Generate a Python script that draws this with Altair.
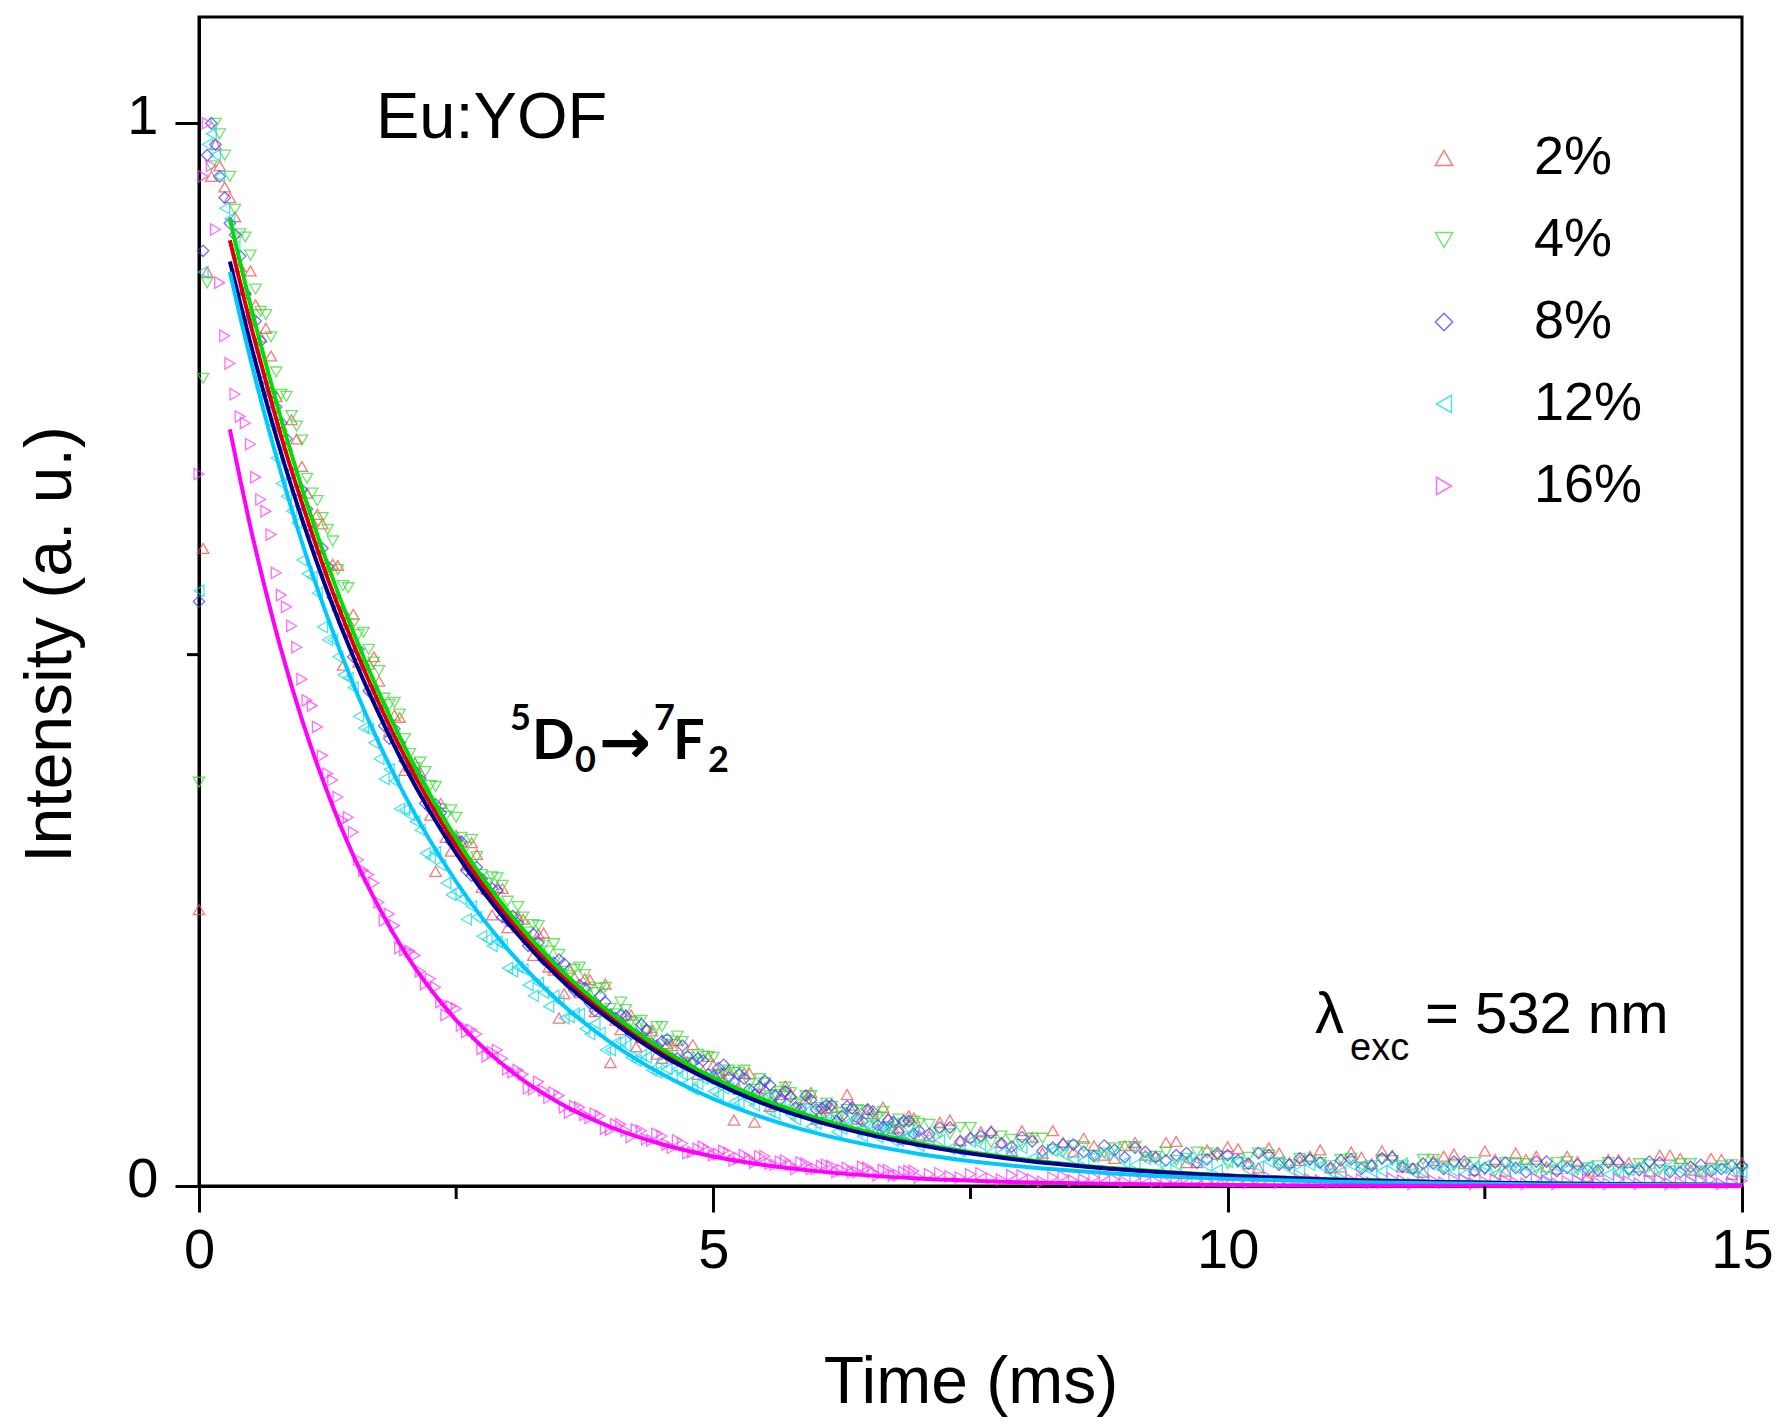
import altair as alt
import pandas as pd

# ---------------- data ----------------
SERIES = ["2%", "4%", "8%", "12%", "16%"]

TIME_MS = [
    0.0, 0.04, 0.08, 0.12, 0.16, 0.2, 0.25,
    0.30, 0.35, 0.40, 0.45, 0.50, 0.55, 0.60, 0.65, 0.70, 0.75, 0.80, 0.85, 0.90, 0.95, 1.00, 1.05, 1.10, 1.15, 1.20, 1.25,
    1.30, 1.35, 1.40, 1.45, 1.50, 1.55, 1.60, 1.65, 1.70, 1.75, 1.80, 1.85, 1.90, 1.95, 2.00, 2.05, 2.10, 2.15, 2.20, 2.25,
    2.30, 2.35, 2.40, 2.45, 2.50, 2.55, 2.60, 2.65, 2.70, 2.75, 2.80, 2.85, 2.90, 2.95, 3.00, 3.05, 3.10, 3.15, 3.20, 3.25,
    3.30, 3.35, 3.40, 3.45, 3.50, 3.55, 3.60, 3.65, 3.70, 3.75, 3.80, 3.85, 3.90, 3.95, 4.00, 4.05, 4.10, 4.15, 4.20, 4.25,
    4.30, 4.35, 4.40, 4.45, 4.50, 4.55, 4.60, 4.65, 4.70, 4.75, 4.80, 4.85, 4.90, 4.95, 5.00, 5.05, 5.10, 5.15, 5.20, 5.25,
    5.30, 5.35, 5.40, 5.45, 5.50, 5.55, 5.60, 5.65, 5.70, 5.75, 5.80, 5.85, 5.90, 5.95, 6.00, 6.05, 6.10, 6.15, 6.20, 6.25,
    6.30, 6.35, 6.40, 6.45, 6.50, 6.55, 6.60, 6.65, 6.70, 6.75, 6.80, 6.85, 6.90, 6.95, 7.00,
    7.1, 7.2, 7.3, 7.4, 7.5, 7.6, 7.7, 7.8, 7.9, 8.0, 8.1, 8.2, 8.3, 8.4, 8.5, 8.6, 8.7, 8.8, 8.9, 9.0,
    9.1, 9.2, 9.3, 9.4, 9.5, 9.6, 9.7, 9.8, 9.9, 10.0, 10.1, 10.2, 10.3, 10.4, 10.5, 10.6, 10.7, 10.8, 10.9, 11.0,
    11.1, 11.2, 11.3, 11.4, 11.5, 11.6, 11.7, 11.8, 11.9, 12.0, 12.1, 12.2, 12.3, 12.4, 12.5, 12.6, 12.7, 12.8, 12.9, 13.0,
    13.1, 13.2, 13.3, 13.4, 13.5, 13.6, 13.7, 13.8, 13.9, 14.0, 14.1, 14.2, 14.3, 14.4, 14.5, 14.6, 14.7, 14.8, 14.9, 15.0,
]

DATA_2 = [
    0.26, 0.60, 0.86, 0.95, 0.98, 0.96, 0.94,
    .930, .912, .865, .843, .861, .829, .799, .807, .781, .743, .715, .697, .721, .703, .677, .652, .626, .632, .623, .580,
    .585, .584, .490, .532, .538, .493, .490, .491, .498, .475, .447, .428, .443, .441, .391, .395, .398, .389, .371, .349,
    .296, .360, .328, .315, .330, .324, .302, .323, .312, .281, .279, .255, .281, .280, .243, .249, .254, .251, .234, .217,
    .237, .238, .206, .203, .158, .181, .205, .196, .182, .195, .194, .164, .169, .190, .116, .156, .147, .161, .161, .131,
    .140, .148, .146, .124, .120, .134, .132, .137, .121, .117, .133, .105, .108, .122, .114, .106, .101, .109, .062, .091,
    .106, .106, .060, .087, .092, .075, .077, .086, .094, .087, .074, .070, .082, .088, .063, .069, .073, .074, .063, .060,
    .086, .076, .063, .055, .072, .068, .054, .074, .064, .054, .055, .044, .066, .064, .048,
    .047, .060, .062, .043, .046, .051, .052, .041, .033, .052, .046, .031, .052, .041, .032, .045, .038, .029, .026, .038,
    .041, .029, .028, .041, .042, .022, .022, .034, .030, .037, .035, .021, .017, .036, .031, .022, .024, .028, .034, .017,
    .018, .032, .027, .021, .033, .029, .018, .017, .013, .024, .028, .030, .021, .015, .033, .025, .014, .031, .025, .028,
    .018, .016, .028, .023, .009, .014, .025, .025, .022, .018, .014, .029, .029, .026, .015, .014, .026, .025, .011, .022,
]

DATA_4 = [
    0.38, 0.76, 0.85, 0.96, 1.00, 0.99, 0.97,
    .950, .919, .896, .893, .876, .844, .823, .820, .799, .766, .745, .743, .725, .715, .702, .666, .652, .645, .629, .618,
    .607, .580, .565, .563, .529, .519, .521, .505, .493, .485, .459, .453, .455, .444, .421, .407, .394, .399, .390, .377,
    .376, .355, .348, .354, .347, .328, .319, .326, .310, .293, .285, .291, .290, .283, .268, .253, .263, .253, .239, .246,
    .245, .226, .221, .228, .218, .202, .198, .204, .206, .199, .187, .182, .186, .187, .167, .162, .173, .166, .155, .154,
    .156, .146, .140, .150, .150, .137, .133, .141, .136, .121, .116, .124, .122, .122, .121, .105, .105, .109, .107, .107,
    .109, .096, .091, .101, .097, .085, .086, .089, .093, .088, .077, .079, .085, .085, .074, .070, .078, .075, .065, .069,
    .072, .064, .072, .071, .059, .063, .065, .070, .056, .053, .063, .059, .053, .061, .059,
    .058, .050, .049, .055, .055, .043, .041, .047, .044, .039, .045, .045, .034, .032, .038, .037, .029, .031, .036, .037,
    .037, .027, .028, .032, .024, .026, .032, .031, .028, .021, .022, .027, .031, .029, .021, .020, .026, .024, .022, .019,
    .025, .026, .017, .019, .025, .024, .019, .016, .025, .025, .017, .019, .020, .022, .015, .014, .022, .021, .021, .016,
    .015, .022, .023, .015, .017, .019, .022, .014, .013, .021, .020, .015, .014, .021, .021, .014, .015, .019, .020, .016,
]

DATA_8 = [
    0.55, 0.88, 0.97, 1.00, 0.98, 0.95, 0.93,
    .906, .895, .875, .840, .817, .814, .795, .759, .746, .733, .718, .703, .671, .655, .655, .637, .615, .600, .600, .583,
    .554, .542, .538, .522, .498, .505, .490, .466, .463, .454, .433, .421, .430, .417, .400, .392, .390, .383, .360, .355,
    .359, .351, .334, .324, .325, .324, .297, .292, .300, .289, .276, .280, .278, .253, .250, .254, .247, .236, .226, .237,
    .229, .213, .212, .210, .213, .209, .190, .184, .189, .186, .172, .165, .179, .173, .161, .158, .161, .160, .143, .143,
    .152, .147, .134, .132, .136, .138, .120, .120, .132, .122, .116, .120, .118, .105, .103, .111, .114, .102, .098, .105,
    .101, .091, .086, .093, .099, .095, .085, .081, .089, .084, .074, .072, .085, .081, .072, .073, .076, .076, .061, .066,
    .075, .073, .064, .061, .072, .070, .057, .055, .062, .060, .051, .061, .061, .049, .052,
    .049, .055, .055, .042, .045, .047, .050, .040, .037, .046, .042, .033, .036, .039, .039, .032, .028, .038, .034, .027,
    .036, .032, .027, .024, .029, .031, .022, .025, .031, .029, .024, .021, .031, .029, .020, .020, .026, .025, .022, .017,
    .024, .025, .016, .019, .026, .027, .018, .016, .021, .021, .016, .023, .023, .014, .017, .022, .022, .017, .013, .023,
    .023, .014, .017, .020, .015, .015, .022, .022, .016, .015, .023, .022, .013, .013, .018, .020, .014, .016, .019, .019,
]

DATA_12 = [
    0.56, 0.86, 0.98, 0.99, 0.97, 0.95, 0.92,
    .910, .884, .845, .820, .813, .782, .751, .743, .718, .685, .661, .649, .635, .624, .589, .576, .573, .558, .526, .514,
    .514, .498, .481, .478, .469, .442, .431, .430, .417, .402, .383, .392, .381, .355, .354, .349, .343, .335, .313, .309,
    .314, .302, .285, .274, .277, .270, .251, .263, .253, .235, .232, .226, .230, .227, .205, .202, .206, .204, .189, .179,
    .191, .182, .169, .179, .174, .158, .159, .162, .162, .148, .143, .153, .144, .128, .128, .135, .136, .132, .121, .118,
    .123, .121, .109, .107, .117, .110, .104, .110, .105, .097, .091, .096, .101, .101, .089, .086, .092, .092, .079, .078,
    .087, .081, .076, .081, .083, .070, .068, .075, .072, .067, .063, .072, .070, .056, .059, .062, .063, .062, .051, .054,
    .059, .059, .052, .047, .057, .053, .046, .055, .054, .043, .043, .045, .047, .051, .038,
    .045, .043, .035, .033, .042, .039, .032, .031, .033, .036, .026, .026, .033, .030, .025, .024, .028, .030, .030, .022,
    .020, .026, .024, .017, .020, .025, .025, .019, .015, .023, .023, .015, .018, .023, .023, .016, .015, .020, .019, .013,
    .013, .020, .019, .014, .014, .019, .021, .013, .013, .020, .016, .014, .011, .018, .019, .011, .014, .017, .018, .012,
    .009, .018, .016, .011, .018, .016, .011, .013, .015, .018, .012, .011, .019, .016, .010, .012, .016, .017, .013, .013,
]

DATA_16 = [
    0.67, 0.95, 1.00, 0.96, 0.90, 0.85, 0.80,
    .774, .745, .724, .718, .698, .667, .646, .635, .613, .577, .556, .545, .527, .507, .477, .457, .452, .432, .405, .388,
    .382, .366, .344, .347, .333, .307, .297, .293, .285, .267, .250, .256, .245, .224, .222, .221, .217, .202, .190, .195,
    .187, .173, .161, .169, .167, .151, .145, .147, .143, .129, .122, .126, .128, .120, .110, .107, .109, .105, .092, .091,
    .098, .090, .083, .088, .085, .074, .069, .075, .074, .067, .064, .068, .066, .054, .053, .058, .058, .052, .046, .053,
    .052, .044, .043, .049, .047, .039, .036, .043, .040, .031, .032, .035, .037, .034, .029, .030, .033, .031, .024, .026,
    .029, .026, .022, .028, .028, .021, .020, .023, .024, .020, .016, .022, .021, .016, .016, .019, .020, .019, .013, .015,
    .017, .013, .013, .018, .017, .013, .010, .015, .015, .010, .010, .013, .014, .014, .008,
    .011, .012, .009, .008, .011, .012, .007, .006, .010, .010, .006, .004, .008, .009, .005, .006, .008, .009, .006, .004,
    .007, .008, .004, .004, .007, .008, .005, .004, .006, .007, .004, .003, .007, .008, .003, .004, .006, .006, .005, .003,
    .004, .006, .006, .003, .003, .007, .005, .002, .004, .005, .003, .006, .006, .002, .004, .006, .005, .003, .002, .007,
    .005, .002, .004, .005, .006, .003, .002, .006, .004, .002, .005, .006, .002, .003, .004, .005, .006, .002, .003, .005,
]

# fitted decay curves
FIT_T = [0.3, 0.4, 0.5, 0.6, 0.8, 1.0, 1.25, 1.5, 1.75, 2.0, 2.5, 3.0, 3.5,
         4.0, 4.5, 5.0, 5.5, 6.0, 7.0, 8.0, 9.0, 10.0, 11.0, 12.0, 13.0, 14.0, 15.0]
FIT_2 = [0.890, 0.850, 0.811, 0.775, 0.705, 0.643, 0.572, 0.510, 0.454, 0.404, 0.320,
         0.253, 0.200, 0.159, 0.126, 0.100, 0.079, 0.063, 0.0394, 0.0247, 0.0156,
         0.0098, 0.0062, 0.0038, 0.0024, 0.0016, 0.0010]
FIT_4 = [0.910, 0.869, 0.829, 0.792, 0.721, 0.657, 0.585, 0.521, 0.464, 0.413, 0.327,
         0.259, 0.205, 0.163, 0.129, 0.102, 0.081, 0.064, 0.0403, 0.0253, 0.0159,
         0.0100, 0.0063, 0.0039, 0.0025, 0.0016, 0.0010]
FIT_8 = [0.870, 0.831, 0.793, 0.757, 0.689, 0.628, 0.559, 0.498, 0.444, 0.395, 0.313,
         0.248, 0.196, 0.156, 0.123, 0.098, 0.077, 0.061, 0.0385, 0.0242, 0.0152,
         0.0096, 0.0060, 0.0037, 0.0024, 0.0015, 0.0010]
FIT_12 = [0.860, 0.818, 0.778, 0.740, 0.670, 0.606, 0.535, 0.472, 0.4165, 0.3676, 0.2863,
          0.2229, 0.1736, 0.1352, 0.1053, 0.0820, 0.0639, 0.0497, 0.0302, 0.0183, 0.0111,
          0.0067, 0.0041, 0.0025, 0.0015, 0.0009, 0.0006]
FIT_16 = [0.712, 0.665, 0.620, 0.579, 0.504, 0.439, 0.370, 0.311, 0.262, 0.220, 0.156,
          0.1106, 0.0783, 0.0555, 0.0393, 0.0278, 0.0197, 0.0140, 0.0070, 0.0035, 0.0018,
          0.0009, 0.0004, 0.0002, 0.0001, 0.0001, 0.0000]

MINOR_X = [2.5, 7.5, 12.5]
MINOR_Y = [0.5]

# ---------------- styles ----------------
SHAPES = ["triangle-up", "triangle-down", "diamond", "triangle-left", "triangle-right"]
MARKER_COLORS = ["#ff4a4a", "#3ade3a", "#4040ff", "#12dbe8", "#ff3cff"]
LINE_COLORS = ["#e00000", "#00dd00", "#00008c", "#00c8ff", "#ff00ff"]
FONT = "Liberation Sans"

W, H = 1543, 1169

# ---------------- tables ----------------
rows = []
for name, vals in zip(SERIES, [DATA_2, DATA_4, DATA_8, DATA_12, DATA_16]):
    assert len(vals) == len(TIME_MS), (name, len(vals), len(TIME_MS))
    for t, v in zip(TIME_MS, vals):
        rows.append({"t": t, "v": v, "series": name})
points_df = pd.DataFrame(rows)

frows = []
for name, vals in zip(SERIES, [FIT_2, FIT_4, FIT_8, FIT_12, FIT_16]):
    assert len(vals) == len(FIT_T)
    for t, v in zip(FIT_T, vals):
        frows.append({"t": t, "v": v, "series": name})
fit_df = pd.DataFrame(frows)

x_scale = alt.Scale(domain=[0, 15], nice=False, zero=False)
y_scale = alt.Scale(domain=[0, 1.1], nice=False, zero=False)

x_axis = alt.Axis(
    values=[0, 5, 10, 15], labelExpr="format(datum.value, 'd')",
    tickSize=26, tickWidth=3, tickColor="black",
    domainColor="black", domainWidth=3, grid=False,
    labelFont=FONT, labelFontSize=56, labelColor="black", labelPadding=11,
    labelFlush=False, labelOverlap=False,
    title="Time (ms)", titleFont=FONT, titleFontSize=66, titleFontWeight="normal",
    titleColor="black", titleY=216, titleBaseline="alphabetic",
)
y_axis = alt.Axis(
    values=[0, 1], labelExpr="format(datum.value, 'd')",
    tickSize=24, tickWidth=3, tickColor="black",
    domainColor="black", domainWidth=3, grid=False,
    labelFont=FONT, labelFontSize=56, labelColor="black", labelPadding=17,
    labelOffset=-7, labelOverlap=False, labelFlush=False,
    title="Intensity (a. u.)", titleFont=FONT, titleFontSize=66,
    titleFontWeight="normal", titleColor="black", titleAngle=270,
    titleX=-129, titleY=627, titleBaseline="alphabetic", titleAlign="center",
)

legend = alt.Legend(
    orient="none", legendX=1218, legendY=114, title=None, padding=0,
    labelFont=FONT, labelFontSize=54, labelColor="black", labelOffset=63,
    labelLimit=400, symbolSize=300, symbolStrokeWidth=1.5, symbolOpacity=0.75,
    rowPadding=28,
)

points = alt.Chart(points_df).mark_point(
    filled=False, size=130, strokeWidth=1.3, opacity=0.75
).encode(
    x=alt.X("t:Q", scale=x_scale, axis=x_axis),
    y=alt.Y("v:Q", scale=y_scale, axis=y_axis),
    color=alt.Color("series:N", scale=alt.Scale(domain=SERIES, range=MARKER_COLORS), legend=legend),
    shape=alt.Shape("series:N", scale=alt.Scale(domain=SERIES, range=SHAPES), legend=legend),
)

fits = alt.Chart(fit_df).mark_line(strokeWidth=4, interpolate="monotone").encode(
    x=alt.X("t:Q", scale=x_scale),
    y=alt.Y("v:Q", scale=y_scale),
    stroke=alt.Stroke("series:N", scale=alt.Scale(domain=SERIES, range=LINE_COLORS), legend=None),
)

minor_x = alt.Chart(pd.DataFrame({"t": MINOR_X})).mark_rule(color="black", strokeWidth=3).encode(
    x=alt.X("t:Q", scale=x_scale), y=alt.value(H), y2=alt.value(H + 13)
)
minor_y = alt.Chart(pd.DataFrame({"v": MINOR_Y})).mark_rule(color="black", strokeWidth=3).encode(
    y=alt.Y("v:Q", scale=y_scale), x=alt.value(0), x2=alt.value(-12)
)


def label(s, x, y, size, weight="normal", font=FONT, align="left"):
    return alt.Chart(pd.DataFrame({"s": [s]})).mark_text(
        align=align, baseline="alphabetic", font=font, fontSize=size,
        fontWeight=weight, color="black"
    ).encode(text="s:N", x=alt.value(x), y=alt.value(y))


texts = [
    label("Eu:YOF", 177, 121, 65),
    label("λ", 1116, 1016, 58),
    label("exc", 1151, 1043, 38),
    label("= 532 nm", 1226, 1016, 58),
    label("5", 311, 713, 36, "bold", "Lato"),
    label("D", 333, 742, 56, "bold", "Lato"),
    label("0", 376, 755, 36, "bold", "Lato"),
    label("→", 400, 746, 62, "bold", "DejaVu Sans"),
    label("7", 455, 713, 36, "bold", "Lato"),
    label("F", 474, 742, 56, "bold", "Lato"),
    label("2", 509, 755, 36, "bold", "Lato"),
]

chart = alt.layer(points, fits, minor_x, minor_y, *texts).properties(
    width=W, height=H,
    padding={"left": 199, "top": 17, "right": 38, "bottom": 238},
    autosize=alt.AutoSizeParams(type="none"),
    background="white",
).configure_view(stroke="black", strokeWidth=3)

chart.save("out.html", embed_options={"renderer": "svg", "actions": False})
